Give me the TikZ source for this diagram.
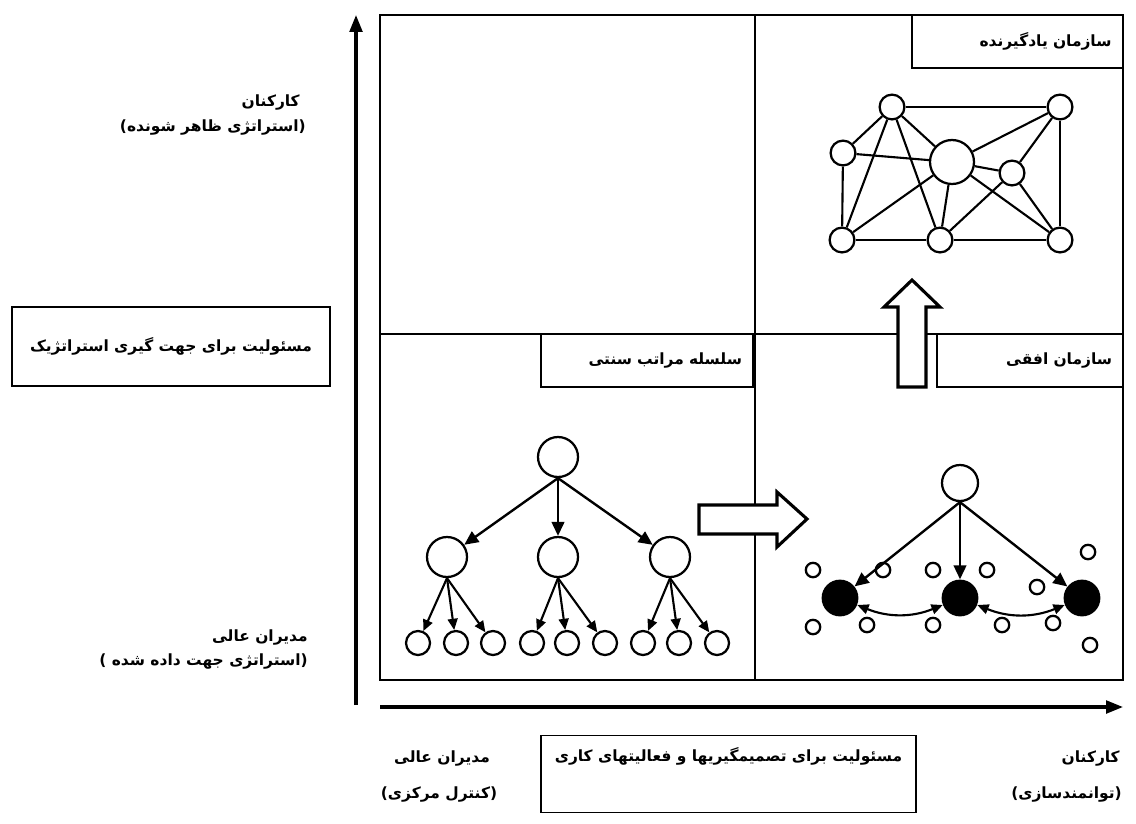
\documentclass[tikz,border=0pt]{standalone}
\usepackage{fontspec}
\usetikzlibrary{arrows.meta}
\newfontfamily\persianfont[Script=Arabic]{DejaVu Sans}
\TeXXeTstate=1
\newcommand{\fa}[1]{\beginR #1\endR}

\begin{document}
\begin{tikzpicture}[
    x=0.025cm, y=-0.025cm,
    every node/.style={inner sep=0pt, font=\persianfont\bfseries\fontsize{11}{13}\selectfont},
    boxLabel/.style={draw, line width=0.9pt, fill=white, minimum height=1.325cm, inner sep=0.3cm},
    sideLabel/.style={anchor=east},
    bigCirc/.style={circle, draw, line width=1.6pt, minimum size=1cm},
    leafCirc/.style={circle, draw, line width=1.6pt, minimum size=0.6cm},
    dotCirc/.style={circle, draw, line width=1.6pt, minimum size=0.36cm},
    fullCirc/.style={circle, fill=black, minimum size=0.92cm},
    netCirc/.style={circle, draw, line width=1.6pt, minimum size=0.62cm},
    arrowLine/.style={line width=1.7pt, -{Triangle[length=10pt,width=9pt]}},
    smallArrow/.style={line width=1.5pt, -{Triangle[length=8pt,width=7pt]}},
    twoWay/.style={line width=1.5pt, {Triangle[length=8pt,width=7pt]}-{Triangle[length=8pt,width=7pt]}},
    netLine/.style={line width=1.5pt},
    axis/.style={line width=2.2pt, -{Triangle[length=12pt,width=9pt]}},
    blockArrow/.style={draw, line width=2.2pt, fill=white}
]

\useasboundingbox (0,0) rectangle (1136,823);

% Frame and quadrants
\draw[line width=0.9pt] (380,15) rectangle (1123,680);
\draw[line width=0.9pt] (755,15) -- (755,680);
\draw[line width=0.9pt] (380,334) -- (1123,334);

% Axes
\coordinate (yFrom) at (356,705);
\coordinate (yTo) at (356,15);
\coordinate (xFrom) at (380,707);
\coordinate (xTo) at (1123,707);
\draw[axis] (yFrom) -- (yTo);
\draw[axis] (xFrom) -- (xTo);

% Axis labels
\node[sideLabel] (staffY) at (300,103) {\fa{کارکنان}};
\node[sideLabel] (staffYnote) at (306,128) {\fa{(استراتژی ظاهر شونده)}};
\node[sideLabel] (topY) at (308,637) {\fa{مدیران عالی}};
\node[sideLabel] (topYnote) at (308,662) {\fa{(استراتژی جهت داده شده )}};
\node (topX) at (442,758) {\fa{مدیران عالی}};
\node (topXnote) at (439,794) {\fa{(کنترل مرکزی)}};
\node[sideLabel] (staffX) at (1120,758) {\fa{کارکنان}};
\node[sideLabel] (staffXnote) at (1122,794) {\fa{(توانمندسازی)}};

% Boxes
\node[boxLabel, minimum width=7.95cm, minimum height=1.975cm] (yTitle) at (171,346.5)
    {\fa{مسئولیت برای جهت گیری استراتژیک}};
\node[boxLabel, minimum width=9.375cm, inner ysep=0.2cm, text height=0.45cm, text depth=1.075cm] (xTitle) at (728.5,735) [anchor=north]
    {\fa{مسئولیت برای تصمیمگیریها و فعالیتهای کاری}};
\node[boxLabel, minimum width=5.275cm, align=right, text width=4.7cm, inner xsep=0.2cm] (learnBox) at (1017.5,41.5)
    {\fa{سازمان یادگیرنده}};
\node[boxLabel, minimum width=5.3cm, align=right, text width=4.75cm, inner xsep=0.2cm] (hierBox) at (647,360.5)
    {\fa{سلسله مراتب سنتی}};
\node[boxLabel, minimum width=4.65cm, align=right, text width=4.1cm, inner xsep=0.2cm] (flatBox) at (1030,360.5)
    {\fa{سازمان افقی}};

% Block arrows
\draw[blockArrow] (699,505) -- (777,505) -- (777,492) -- (807,519) -- (777,547) -- (777,534) -- (699,534) -- cycle;
\draw[blockArrow] (898,387) -- (898,307) -- (884,307) -- (912,280) -- (940,307) -- (926,307) -- (926,387) -- cycle;

% Traditional hierarchy
\node[bigCirc] (root) at (558,457) {};
\node[bigCirc] (mid1) at (447,557) {};
\node[bigCirc] (mid2) at (558,557) {};
\node[bigCirc] (mid3) at (670,557) {};
\node[leafCirc] (leaf1) at (418,643) {};
\node[leafCirc] (leaf2) at (456,643) {};
\node[leafCirc] (leaf3) at (493,643) {};
\node[leafCirc] (leaf4) at (532,643) {};
\node[leafCirc] (leaf5) at (567,643) {};
\node[leafCirc] (leaf6) at (605,643) {};
\node[leafCirc] (leaf7) at (643,643) {};
\node[leafCirc] (leaf8) at (679,643) {};
\node[leafCirc] (leaf9) at (717,643) {};

\draw[arrowLine] (root.south) -- (mid1);
\draw[arrowLine] (root.south) -- (mid2);
\draw[arrowLine] (root.south) -- (mid3);
\draw[smallArrow] (mid1.south) -- (leaf1);
\draw[smallArrow] (mid1.south) -- (leaf2);
\draw[smallArrow] (mid1.south) -- (leaf3);
\draw[smallArrow] (mid2.south) -- (leaf4);
\draw[smallArrow] (mid2.south) -- (leaf5);
\draw[smallArrow] (mid2.south) -- (leaf6);
\draw[smallArrow] (mid3.south) -- (leaf7);
\draw[smallArrow] (mid3.south) -- (leaf8);
\draw[smallArrow] (mid3.south) -- (leaf9);

% Horizontal organisation
\node[bigCirc, minimum size=0.9cm] (head) at (960,483) {};
\node[fullCirc] (team1) at (840,598) {};
\node[fullCirc] (team2) at (960,598) {};
\node[fullCirc] (team3) at (1082,598) {};
\node[dotCirc] (dot1) at (813,570) {};
\node[dotCirc] (dot2) at (883,570) {};
\node[dotCirc] (dot3) at (933,570) {};
\node[dotCirc] (dot4) at (987,570) {};
\node[dotCirc] (dot5) at (1088,552) {};
\node[dotCirc] (dot6) at (1037,587) {};
\node[dotCirc] (dot7) at (813,627) {};
\node[dotCirc] (dot8) at (867,625) {};
\node[dotCirc] (dot9) at (933,625) {};
\node[dotCirc] (dot10) at (1002,625) {};
\node[dotCirc] (dot11) at (1053,623) {};
\node[dotCirc] (dot12) at (1090,645) {};

\draw[arrowLine] (head.south) -- (team1);
\draw[arrowLine] (head.south) -- (team2);
\draw[arrowLine] (head.south) -- (team3);
\draw[twoWay] (team1) to[bend right=22] (team2);
\draw[twoWay] (team2) to[bend right=22] (team3);

% Learning organisation
\node[netCirc] (net1) at (892,107) {};
\node[netCirc] (net2) at (1060,107) {};
\node[netCirc] (net3) at (843,153) {};
\node[netCirc, minimum size=1.1cm] (net4) at (952,162) {};
\node[netCirc] (net5) at (1012,173) {};
\node[netCirc] (net6) at (842,240) {};
\node[netCirc] (net7) at (940,240) {};
\node[netCirc] (net8) at (1060,240) {};

\draw[netLine] (net1) -- (net2);
\draw[netLine] (net1) -- (net3);
\draw[netLine] (net1) -- (net4);
\draw[netLine] (net1) -- (net6);
\draw[netLine] (net1) -- (net7);
\draw[netLine] (net3) -- (net4);
\draw[netLine] (net3) -- (net6);
\draw[netLine] (net2) -- (net4);
\draw[netLine] (net2) -- (net5);
\draw[netLine] (net2) -- (net8);
\draw[netLine] (net4) -- (net5);
\draw[netLine] (net4) -- (net6);
\draw[netLine] (net4) -- (net7);
\draw[netLine] (net4) -- (net8);
\draw[netLine] (net5) -- (net7);
\draw[netLine] (net5) -- (net8);
\draw[netLine] (net6) -- (net7);
\draw[netLine] (net7) -- (net8);

\end{tikzpicture}
\end{document}
